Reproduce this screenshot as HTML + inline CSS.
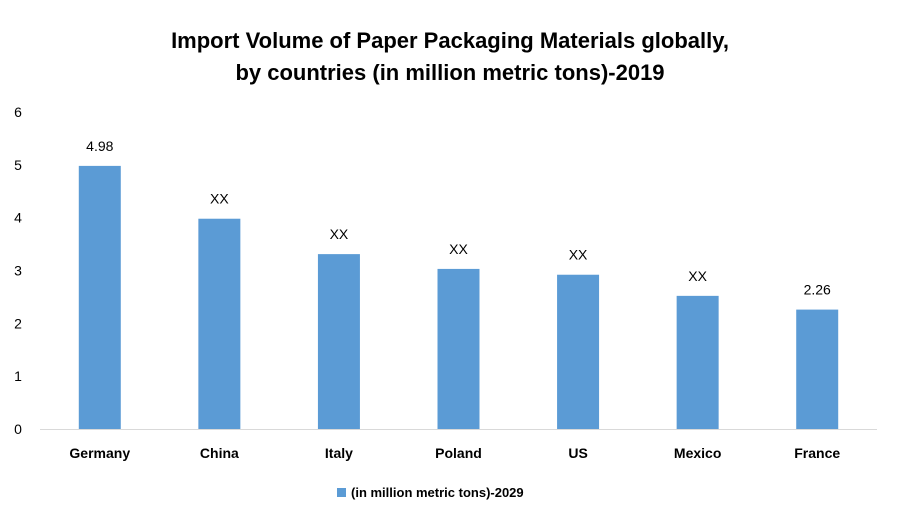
<!DOCTYPE html>
<html>
<head>
<meta charset="utf-8">
<style>
  html, body { margin: 0; padding: 0; background: #fff; }
  svg { display: block; }
  text { font-family: "Liberation Sans", Arial, sans-serif; fill: #000; }
</style>
</head>
<body>
<svg id="chart" width="900" height="525" viewBox="0 0 900 525" xmlns="http://www.w3.org/2000/svg">
  <text x="450" y="48" text-anchor="middle" font-size="22" font-weight="bold">Import Volume of Paper Packaging Materials globally,</text>
  <text x="450" y="80" text-anchor="middle" font-size="22" font-weight="bold">by countries (in million metric tons)-2019</text>
  <g id="yaxis"></g>
  <g id="bars"></g>
  <g id="xaxis"></g>
  <g>
    <rect x="337" y="488" width="9" height="9" fill="#5b9bd5"></rect>
    <text x="351" y="497" font-size="13" font-weight="bold">(in million metric tons)-2029</text>
  </g>
</svg>
<script>
const categories = ["Germany", "China", "Italy", "Poland", "US", "Mexico", "France"];
const values = [4.98, 3.98, 3.31, 3.03, 2.92, 2.52, 2.26];
const valueLabels = ["4.98", "XX", "XX", "XX", "XX", "XX", "2.26"];
const yTicks = [0, 1, 2, 3, 4, 5, 6];

const NS = "http://www.w3.org/2000/svg";
const plotLeft = 40, plotRight = 877, y0 = 429, y6 = 112;
const yMax = 6;
function yScale(v) { return y0 - (v / yMax) * (y0 - y6); }
const band = (plotRight - plotLeft) / categories.length;
function xCenter(i) { return plotLeft + band * (i + 0.5); }
const barW = 42;

function mk(tag, attrs, parent) {
  const el = document.createElementNS(NS, tag);
  for (const k in attrs) el.setAttribute(k, attrs[k]);
  parent.appendChild(el);
  return el;
}

const yaxis = document.getElementById("yaxis");
yTicks.forEach(t => {
  const tx = mk("text", { x: 18, y: yScale(t) + 5, "text-anchor": "middle", "font-size": "14" }, yaxis);
  
  
  tx.textContent = t;
});

const bars = document.getElementById("bars");
values.forEach((v, i) => {
  const cx = xCenter(i);
  const r = mk("rect", { x: cx - barW / 2, y: yScale(v), width: barW, height: y0 - yScale(v), fill: "#5b9bd5" }, bars);
  
  
  const lb = mk("text", { x: cx, y: yScale(v) - 15, "text-anchor": "middle", "font-size": "14" }, bars);
  
  
  lb.textContent = valueLabels[i];
});

const xaxis = document.getElementById("xaxis");
const base = mk("line", { x1: plotLeft, x2: plotRight, y1: y0 + 0.5, y2: y0 + 0.5, stroke: "#d9d9d9", "stroke-width": 1 }, xaxis);


categories.forEach((c, i) => {
  const tx = mk("text", { x: xCenter(i), y: 458, "text-anchor": "middle", "font-size": "14", "font-weight": "bold" }, xaxis);
  
  
  tx.textContent = c;
});
</script>
</body>
</html>
